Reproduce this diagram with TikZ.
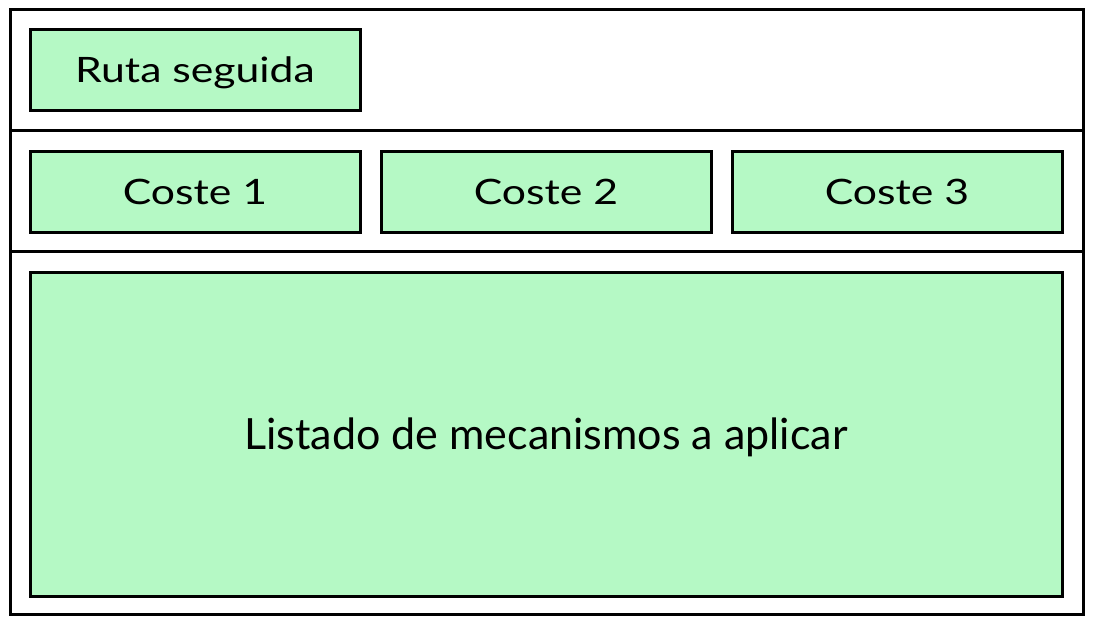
\documentclass[tikz,border=0pt]{standalone}
\usepackage{fontspec}
\setmainfont{Lato}
\newfontfamily\labelfont[FakeStretch=1.22]{Lato}
\definecolor{boxgreen}{RGB}{181,249,197}
\begin{document}
\begin{tikzpicture}[x=1pt,y=-1pt,
  line width=3pt,
  greenbox/.style={draw=black,fill=boxgreen,rectangle,inner sep=0pt,
    font=\labelfont\fontsize{35}{40}\selectfont,text height=25pt,text depth=0pt},
  bigbox/.style={greenbox,font=\fontsize{43}{48}\selectfont,text height=30.5pt},
]
\useasboundingbox (0,0) rectangle (1094,626);
\node[draw=black,rectangle,inner sep=0pt,minimum width=1073pt,minimum height=604pt] (frame) at (547,312) {};
\coordinate (d1l) at (10,130.5);
\coordinate (d1r) at (1084,130.5);
\coordinate (d2l) at (10,251.5);
\coordinate (d2r) at (1084,251.5);
\draw (d1l) -- (d1r);
\draw (d2l) -- (d2r);
\node[greenbox,minimum width=330pt,minimum height=80pt] (ruta) at (195,70) {Ruta seguida};
\node[greenbox,minimum width=330pt,minimum height=81pt] (c1) at (195,191.5) {Coste 1};
\node[greenbox,minimum width=330pt,minimum height=81pt] (c2) at (546,191.5) {Coste 2};
\node[greenbox,minimum width=330pt,minimum height=81pt] (c3) at (897,191.5) {Coste 3};
\node[bigbox,minimum width=1032pt,minimum height=324pt] (list) at (546,434) {Listado de mecanismos a aplicar};
\end{tikzpicture}
\end{document}
